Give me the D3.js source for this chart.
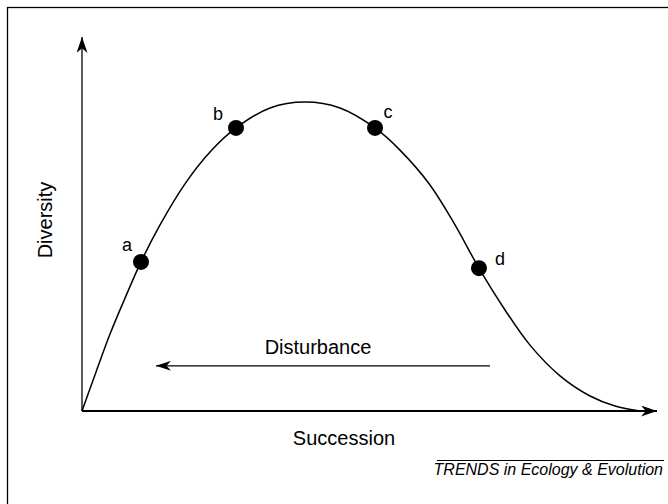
<!DOCTYPE html>
<html>
<head>
<meta charset="utf-8">
<script src="https://cdn.jsdelivr.net/npm/d3@7"></script>
<style>
  html, body { margin: 0; padding: 0; background: #fff; }
  svg { display: block; }
  text { font-family: "Liberation Sans", Arial, Helvetica, sans-serif; fill: #000; }
</style>
</head>
<body>
<svg id="chart" width="668" height="504"></svg>
<script>
// ---- data (in chart units: succession 0-100, diversity 0-100) ----
const succession = [0, 2.43, 4.87, 7.48, 10.26, 13.57, 17.91, 22.26, 26.78, 32.70, 38.78, 44.87, 50.96, 55.30, 60.52, 64.87, 69.04, 73.57, 77.91, 83.13, 88.35, 92.70, 97.04];
const diversity  = [0, 10.5, 20.8, 30.5, 40.3, 50.3, 61.4, 70.0, 76.5, 81.9, 83.5, 81.9, 76.5, 70.5, 61.1, 50.3, 38.6, 27.3, 17.8, 9.5, 4.05, 1.35, 0];
const pointLabels = ["a", "b", "c", "d"];
const pointX = [10.26, 26.78, 50.96, 69.04];
const pointY = [40.3, 76.5, 76.5, 38.6];
const disturbanceFrom = 70.96;  // succession units
const disturbanceTo = 12.87;
const disturbanceLevel = 12.2;  // diversity units
const xLabel = "Succession";
const yLabel = "Diversity";
const arrowLabel = "Disturbance";
const footer = "TRENDS in Ecology & Evolution";

// ---- layout ----
const svg = d3.select("#chart");
const x = d3.scaleLinear().domain([0, 100]).range([82, 657]);
const y = d3.scaleLinear().domain([0, 100]).range([411, 41]);

// frame (top & left visible)
svg.append("rect").attr("x", 7.5).attr("y", 7.5).attr("width", 700).attr("height", 600)
  .attr("fill", "none").attr("stroke", "#000").attr("stroke-width", 1.3);

const defs = svg.append("defs");
function marker(id, len, hw) {
  defs.append("marker").attr("id", id)
    .attr("viewBox", `0 ${-hw} ${len} ${2 * hw}`)
    .attr("refX", len).attr("refY", 0)
    .attr("markerWidth", len).attr("markerHeight", 2 * hw)
    .attr("markerUnits", "userSpaceOnUse")
    .attr("orient", "auto")
    .append("path")
    .attr("d", `M0,${-hw} L${len},0 L0,${hw} L${len * 0.3},0 Z`)
    .attr("fill", "#000");
}
marker("axArrow", 16, 5.5);
marker("distArrow", 15, 5);

// axes
svg.append("line").attr("x1", x(0)).attr("y1", y(0)).attr("x2", x(0)).attr("y2", y(100) - 4)
  .attr("stroke", "#333").attr("stroke-width", 1.6).attr("marker-end", "url(#axArrow)");
svg.append("line").attr("x1", x(0)).attr("y1", y(0)).attr("x2", x(100)).attr("y2", y(0))
  .attr("stroke", "#000").attr("stroke-width", 1.8).attr("marker-end", "url(#axArrow)");

// curve
const pts = succession.map((s, i) => [s, diversity[i]]);
const line = d3.line().x(d => x(d[0])).y(d => y(d[1])).curve(d3.curveCatmullRom.alpha(0.5));
svg.append("path").datum(pts).attr("d", line)
  .attr("fill", "none").attr("stroke", "#000").attr("stroke-width", 1.5);

// points
const labelOffsets = [[-14, -11], [-18, -8], [13, -10], [21, -3]];
pointLabels.forEach((lab, i) => {
  svg.append("circle").attr("cx", x(pointX[i])).attr("cy", y(pointY[i])).attr("r", 8).attr("fill", "#000");
  svg.append("text").attr("x", x(pointX[i]) + labelOffsets[i][0]).attr("y", y(pointY[i]) + labelOffsets[i][1])
    .attr("text-anchor", "middle").attr("font-size", 18).text(lab);
});

// disturbance arrow
svg.append("line").attr("x1", x(disturbanceFrom)).attr("y1", y(disturbanceLevel))
  .attr("x2", x(disturbanceTo)).attr("y2", y(disturbanceLevel))
  .attr("stroke", "#000").attr("stroke-width", 1.2).attr("marker-end", "url(#distArrow)");
svg.append("text").attr("x", 318).attr("y", 354).attr("text-anchor", "middle")
  .attr("font-size", 20).text(arrowLabel);

// axis labels
svg.append("text").attr("x", 344).attr("y", 445).attr("text-anchor", "middle")
  .attr("font-size", 20).text(xLabel);
svg.append("text").attr("transform", "translate(52,220) rotate(-90)").attr("text-anchor", "middle")
  .attr("font-size", 20).text(yLabel);

// footer
svg.append("line").attr("x1", 437).attr("x2", 664).attr("y1", 460.5).attr("y2", 460.5)
  .attr("stroke", "#000").attr("stroke-width", 1);
svg.append("text").attr("x", 663).attr("y", 475).attr("text-anchor", "end")
  .attr("font-size", 16).attr("font-style", "italic").text(footer);
</script>
</body>
</html>
